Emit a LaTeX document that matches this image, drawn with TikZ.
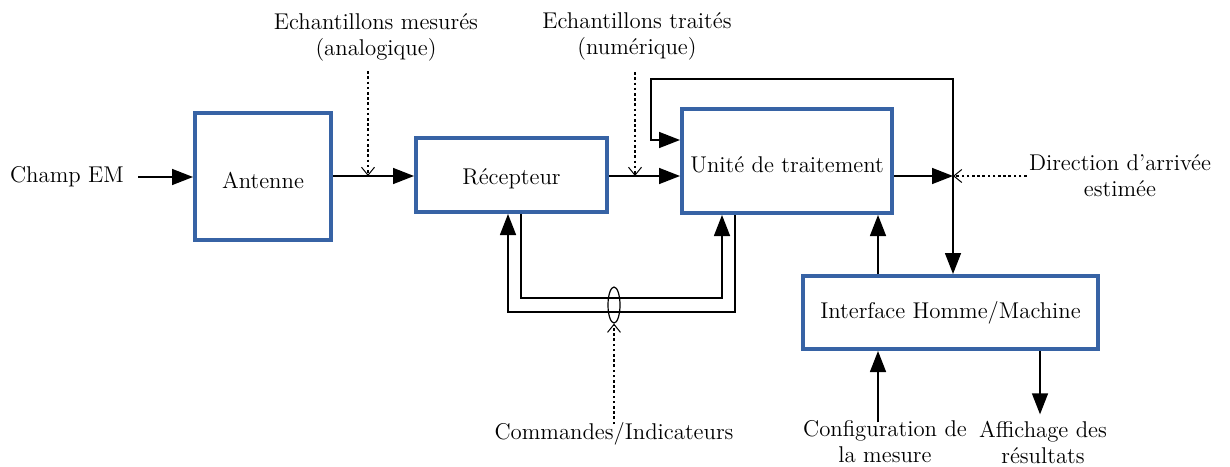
\documentclass[tikz,border=0pt]{standalone}
\usepackage{tikz}
\usetikzlibrary{positioning, arrows.meta, shapes.geometric}
\definecolor{blockColor}{RGB}{55,99,165}
\tikzstyle{diagram} = [x = 0.5pt, y = -0.5pt, font=\fontsize{11.4}{13}\selectfont]
\tikzstyle{blockStyle} = [draw=blockColor, line width=2pt, fill=white, inner sep=0pt, text depth=0pt]
\tikzstyle{labelText} = [align=center, inner sep=1pt]
\tikzstyle{signalArrow} = [color=black, line width=0.75pt, -{Triangle[length=10.5pt, width=8pt]}]
\tikzstyle{dottedArrow} = [color=black, line width=0.55pt, dash pattern=on 1.3pt off 1.3pt, -{Straight Barb[length=4pt, width=6.5pt, line width=0.5pt]}]
\begin{document}
\begin{tikzpicture}[diagram]
      \useasboundingbox (0,0) rectangle (1230,466);

      \node[blockStyle, minimum width=68pt, minimum height=63.5pt, text height=12pt] (antenne) at (263,176.5) {Antenne};
      \node[blockStyle, minimum width=95.5pt, minimum height=37pt, text height=9pt] (recepteur) at (511.5,175) {Récepteur};
      \node[blockStyle, minimum width=105pt, minimum height=52pt, text height=11.5pt] (unite) at (787,161) {Unité de traitement};
      \node[blockStyle, minimum width=147.5pt, minimum height=36.5pt, text height=5.5pt] (ihm) at (950.5,312.5) {Interface Homme/Machine};
      \node[draw, line width=0.6pt, ellipse, inner sep=0pt, minimum width=6pt, minimum height=18pt] (faisceau) at (614,305) {};

      \node[labelText] (champ) at (67,177) {Champ EM};
      \node[labelText] (mesures) at (376,37) {Echantillons mesurés\\(analogique)};
      \node[labelText] (traites) at (637,36) {Echantillons traités\\(numérique)};
      \node[labelText] (direction) at (1120,176) {Direction d'arrivée\\estimée};
      \node[labelText] (commandes) at (614,434) {Commandes/Indicateurs};
      \node[labelText] (config) at (885,442) {Configuration de\\la mesure};
      \node[labelText] (affichage) at (1043,442) {Affichage des\\résultats};

      \coordinate (echMesure) at (368,176);
      \coordinate (echTraite) at (635,176);
      \coordinate (jonction) at (953,176);
      \coordinate (retourHaut) at (651,79);
      \coordinate (busHaut) at (614,298);
      \coordinate (busBas) at (614,312);

      \draw[signalArrow] ([xshift=6pt]champ.east) -- (champ.east -| antenne.west);
      \draw[signalArrow] (antenne.east |- echMesure) -- (echMesure -| recepteur.west);
      \draw[signalArrow] (recepteur.east |- echTraite) -- (echTraite -| unite.west);
      \draw[signalArrow] (unite.east |- jonction) -- (jonction);
      \draw[signalArrow] (jonction) |- (retourHaut) |- ([yshift=10.5pt]unite.west);
      \draw[signalArrow] (jonction) -- (jonction |- ihm.north);
      \draw[signalArrow] ([xshift=-36.25pt]ihm.north) -- ([xshift=-36.25pt]ihm.north |- unite.south);
      \draw[signalArrow] ([xshift=-36.25pt,yshift=-2pt]ihm.south |- config.north) -- ([xshift=-36.25pt]ihm.south);
      \draw[signalArrow] ([xshift=44.75pt]ihm.south) -- ([xshift=44.75pt,yshift=2pt]ihm.south |- affichage.north);

      \draw[signalArrow] ([xshift=4.75pt]recepteur.south) |- (busHaut) -| ([xshift=-32.5pt]unite.south);
      \draw[signalArrow] ([xshift=-26pt]unite.south) |- (busBas) -| ([xshift=-1.75pt]recepteur.south);

      \draw[dottedArrow] ([yshift=-4pt]echMesure |- mesures.south) -- (echMesure);
      \draw[dottedArrow] ([yshift=-5pt]echTraite |- traites.south) -- (echTraite);
      \draw[dottedArrow] (direction.west) -- (jonction);
      \draw[dottedArrow] ([yshift=-2pt]commandes.north) -- (faisceau.south);
\end{tikzpicture}
\end{document}
